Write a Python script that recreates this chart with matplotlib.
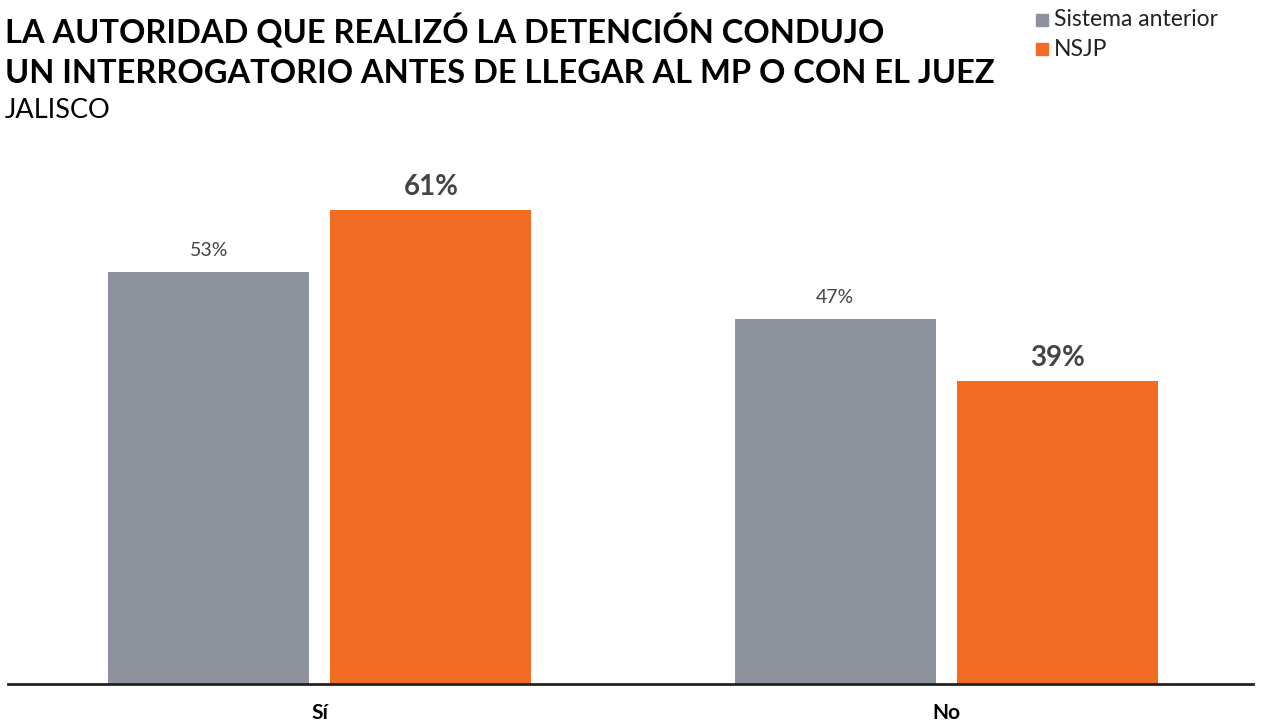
import matplotlib
matplotlib.use('Agg')
import matplotlib.pyplot as plt
from matplotlib.patches import Rectangle

plt.rcParams['font.family'] = ['Lato', 'DejaVu Sans']

categories = ['Sí', 'No']
series = ['Sistema anterior', 'NSJP']
anterior = [53, 47]
nsjp = [61, 39]
colors = ['#8E929C', '#F26C23']
title_lines = ['LA AUTORIDAD QUE REALIZÓ LA DETENCIÓN CONDUJO',
               'UN INTERROGATORIO ANTES DE LLEGAR AL MP O CON EL JUEZ']

fig = plt.figure(figsize=(12.63, 7.24), dpi=100)
ax = fig.add_axes([8/1263, 40/724, 1245/1263, 545/724])

x = list(range(len(categories)))
w = 0.321
off = 0.1773
b1 = ax.bar([i - off for i in x], anterior, w, color=colors[0])
b2 = ax.bar([i + off for i in x], nsjp, w, color=colors[1])

for r, v in zip(b1, anterior):
    ax.annotate(f'{v}%', (r.get_x() + r.get_width()/2, v), xytext=(0, 9),
                textcoords='offset points', ha='center', va='bottom',
                fontsize=14, color='#444444')
for r, v in zip(b2, nsjp):
    ax.annotate(f'{v}%', (r.get_x() + r.get_width()/2, v), xytext=(0, 7),
                textcoords='offset points', ha='center', va='bottom',
                fontsize=20, fontweight='bold', color='#444444')

ax.set_xlim(-0.498, 1.490)
ax.set_ylim(0, 70.1)
ax.set_xticks(x)
ax.set_xticklabels(categories, fontsize=15, fontweight='bold', color='black')
ax.tick_params(axis='x', length=0, pad=14)
ax.set_yticks([])
for s in ['top', 'right', 'left']:
    ax.spines[s].set_visible(False)
ax.spines['bottom'].set_color('#222222')
ax.spines['bottom'].set_linewidth(2)

for i, line in enumerate(title_lines):
    fig.text(5/1263, 1 - (44 + 39*i)/724, line, fontsize=23.5, fontweight='bold',
             color='black', va='baseline', ha='left')
fig.text(5/1263, 1 - 118/724, 'JALISCO', fontsize=19.5, color='black', va='baseline', ha='left')

# legend
for i, (name, c) in enumerate(zip(series, colors)):
    yc = 20 + i * 29
    fig.patches.append(Rectangle((1036/1263, 1 - (yc + 6)/724), 12/1263, 12/724,
                                 transform=fig.transFigure, color=c))
    fig.text(1054/1263, 1 - yc/724, name, fontsize=16.5, color='#222222', va='center', ha='left')

plt.savefig('out.png', dpi=100)
